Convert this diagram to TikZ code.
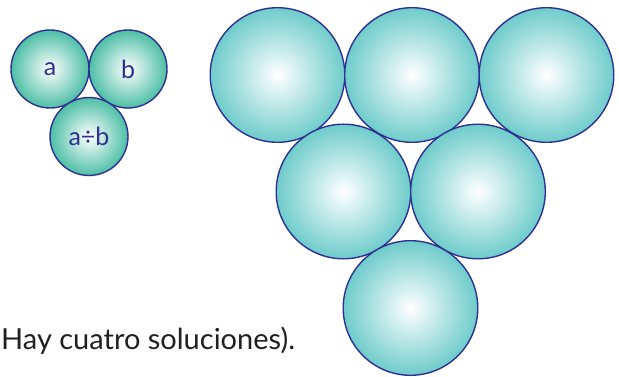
\documentclass[tikz,border=0pt]{standalone}
\usepackage{fontspec}
\setmainfont{Lato}
\usepackage{tikz}
\definecolor{ink}{HTML}{2E3192}
\definecolor{seagreen}{HTML}{4DBFA5}
\definecolor{aqua}{HTML}{6ECCCB}
\definecolor{textgray}{HTML}{231F20}
\tikzset{
  smallball/.style={circle,draw=ink,line width=1.4pt,inner sep=0pt,minimum size=78pt,
    inner color=white,outer color=seagreen,text=ink,font=\fontsize{25}{25}\selectfont},
  bigball/.style={circle,draw=ink,line width=1.4pt,inner sep=0pt,minimum size=134.6pt,
    inner color=white,outer color=aqua}
}

\begin{document}
\begin{tikzpicture}[x=1pt,y=-1pt]
    \useasboundingbox (0,0) rectangle (619,377);
    % la pareja y su cociente
    \node[smallball] (a) at (50,69) {a};
    \node[smallball] (b) at (128,69) {b};
    \node[smallball] (ab) at (89,136.5) {a÷b};
    % las seis bolas
    \foreach \n/\x/\y in {b1/277.5/75,b2/412/75,b3/546.5/75,b4/343.5/191.5,b5/478/191.5,b6/410.5/308}
      \node[bigball] (\n) at (\x,\y) {};
    \node[anchor=base west,inner sep=0pt,text=textgray,font=\fontsize{29}{29}\selectfont] (txt) at (1,349) {Hay cuatro soluciones).};
  \end{tikzpicture}
\end{document}
